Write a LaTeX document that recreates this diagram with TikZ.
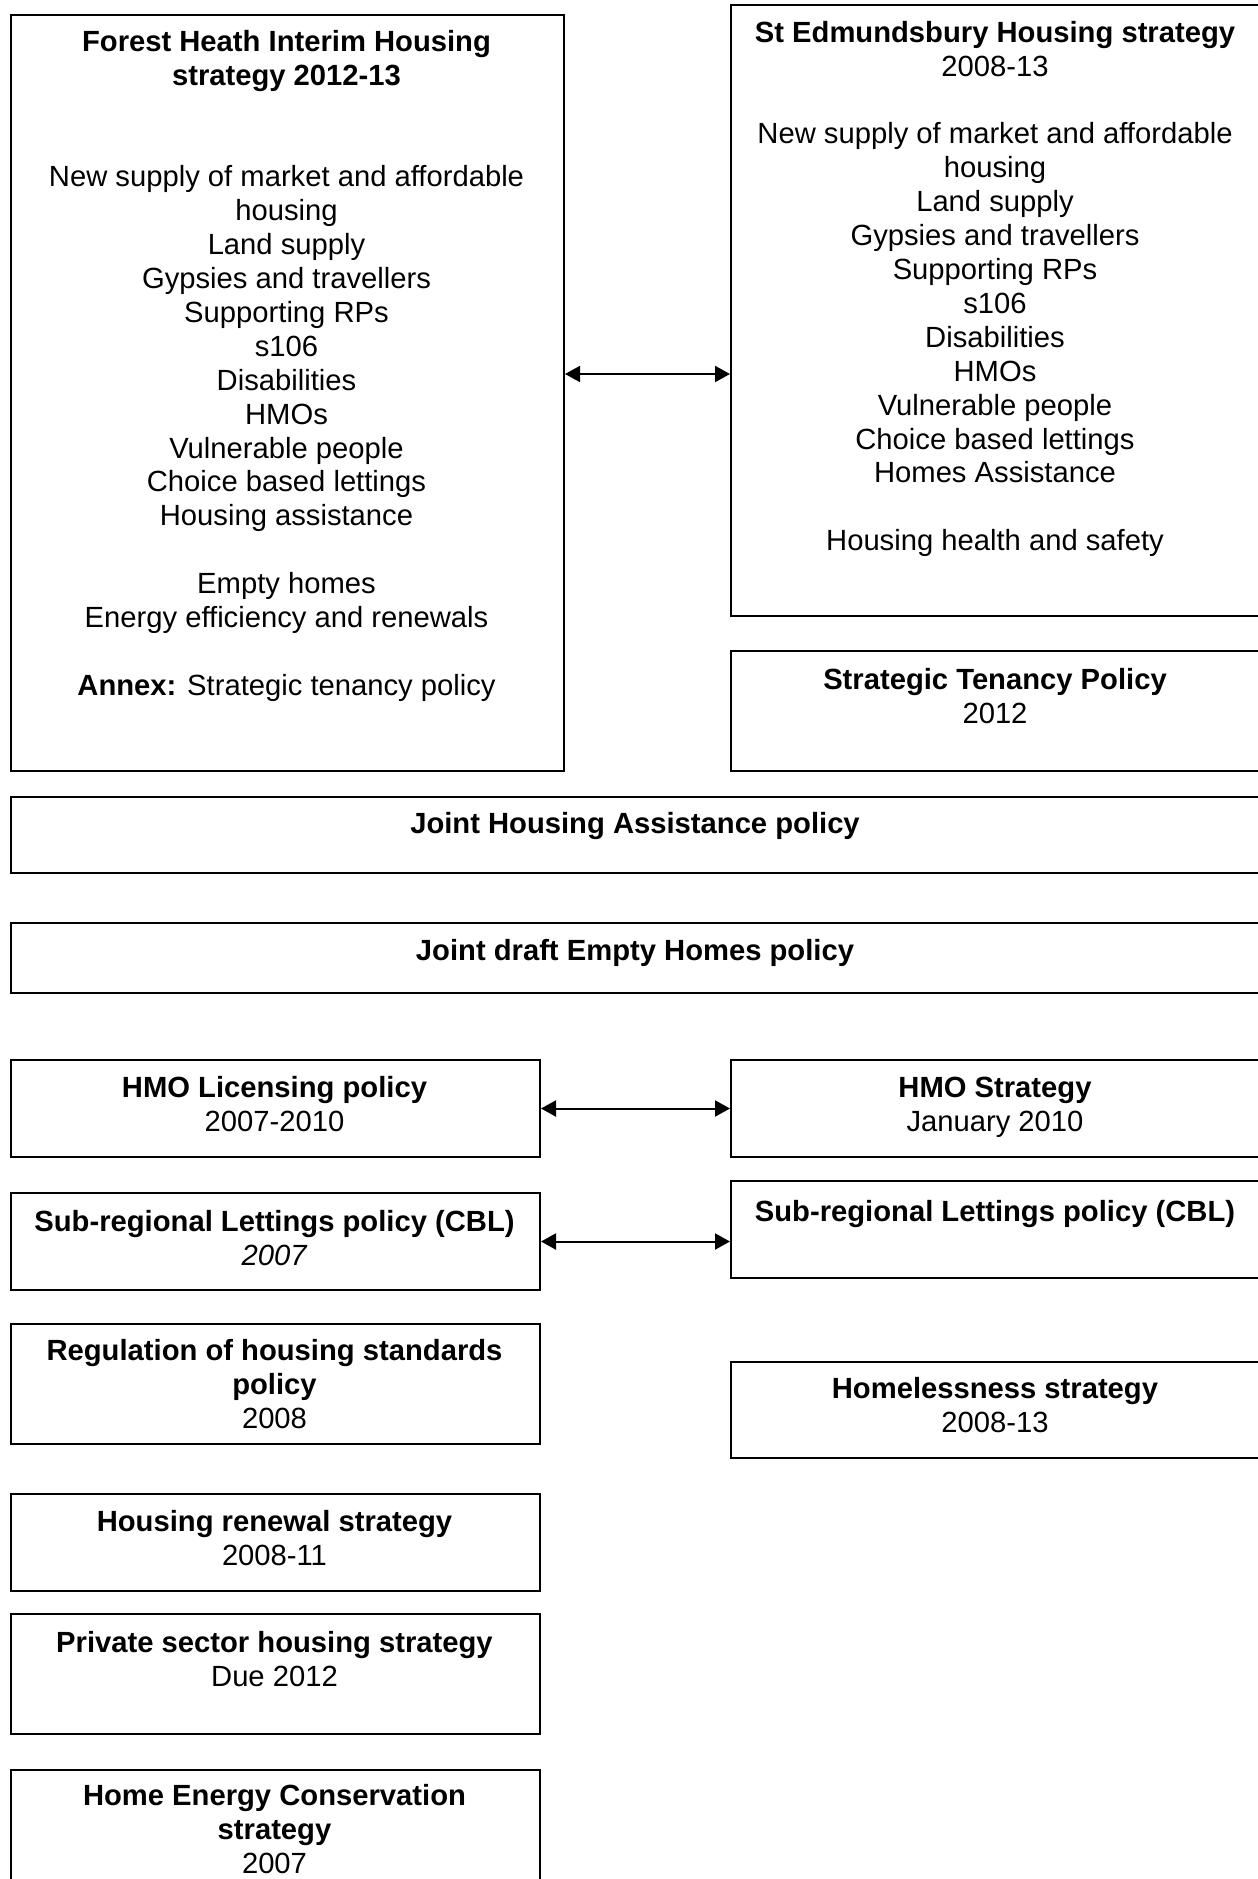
\documentclass[tikz,border=0pt]{standalone}
\usepackage{fontspec}
\setmainfont{Liberation Sans}
\usetikzlibrary{arrows.meta}
\newcommand\fl{\rule{0pt}{24pt}}
\begin{document}
\begin{tikzpicture}[x=1pt,y=-1pt,
  box/.style={draw=black, line width=2pt, rectangle, inner sep=0pt, anchor=north west},
  txt/.style={font=\fontsize{29.2}{33.9}\selectfont, align=center, inner sep=0pt, anchor=north},
  dbl/.style={{Triangle[length=15pt,width=16pt]}-{Triangle[length=15pt,width=16pt]}, line width=2pt}]
\useasboundingbox (0,0) rectangle (1258,1879);
% boxes
\node[box, minimum width=553pt, minimum height=756pt] (fh) at (10,14) {};
\node[box, minimum width=530pt, minimum height=611pt] (se) at (730,4) {};
\node[box, minimum width=530pt, minimum height=120pt] (stp) at (730,650) {};
\node[box, minimum width=1250pt, minimum height=76pt] (jha) at (10,796) {};
\node[box, minimum width=1250pt, minimum height=70pt] (jeh) at (10,922) {};
\node[box, minimum width=529pt, minimum height=97pt] (hmol) at (10,1059) {};
\node[box, minimum width=530pt, minimum height=97pt] (hmos) at (730,1059) {};
\node[box, minimum width=529pt, minimum height=97pt] (subl) at (10,1192) {};
\node[box, minimum width=530pt, minimum height=97pt] (subr) at (730,1180) {};
\node[box, minimum width=529pt, minimum height=120pt] (reg) at (10,1323) {};
\node[box, minimum width=530pt, minimum height=96pt] (hom) at (730,1361) {};
\node[box, minimum width=529pt, minimum height=97pt] (ren) at (10,1493) {};
\node[box, minimum width=529pt, minimum height=120pt] (priv) at (10,1613) {};
\node[box, minimum width=529pt, minimum height=130pt] (hec) at (10,1769) {};
% texts
\node[txt] (fhT) at (286.5,27) {\fl\textbf{Forest Heath Interim Housing}\\\textbf{strategy 2012-13}\\[67.8pt]
 New supply of market and affordable\\housing\\Land supply\\Gypsies and travellers\\Supporting RPs\\s106\\Disabilities\\HMOs\\Vulnerable people\\Choice based lettings\\Housing assistance\\[33.9pt]
 Empty homes\\Energy efficiency and renewals\\[33.9pt]
 \textbf{Annex:} Strategic tenancy policy};
\node[txt] (seT) at (995,18) {\fl\textbf{St Edmundsbury Housing strategy}\\2008-13\\[33.9pt]
 New supply of market and affordable\\housing\\Land supply\\Gypsies and travellers\\Supporting RPs\\s106\\Disabilities\\HMOs\\Vulnerable people\\Choice based lettings\\Homes Assistance\\[33.9pt]
 Housing health and safety};
\node[txt] (stpT) at (995,665) {\fl\textbf{Strategic Tenancy Policy}\\2012};
\node[txt] (jhaT) at (635,809) {\fl\textbf{Joint Housing Assistance policy}};
\node[txt] (jehT) at (635,936) {\fl\textbf{Joint draft Empty Homes policy}};
\node[txt] (hmolT) at (274.5,1073) {\fl\textbf{HMO Licensing policy}\\2007-2010};
\node[txt] (hmosT) at (995,1073) {\fl\textbf{HMO Strategy}\\January 2010};
\node[txt] (sublT) at (274.5,1207) {\fl\textbf{Sub-regional Lettings policy (CBL)}\\\textit{2007}};
\node[txt] (subrT) at (995,1197) {\fl\textbf{Sub-regional Lettings policy (CBL)}};
\node[txt] (regT) at (274.5,1336) {\fl\textbf{Regulation of housing standards}\\\textbf{policy}\\2008};
\node[txt] (homT) at (995,1374) {\fl\textbf{Homelessness strategy}\\2008-13};
\node[txt] (renT) at (274.5,1507) {\fl\textbf{Housing renewal strategy}\\2008-11};
\node[txt] (privT) at (274.5,1628) {\fl\textbf{Private sector housing strategy}\\Due 2012};
\node[txt] (hecT) at (274.5,1781) {\fl\textbf{Home Energy Conservation}\\\textbf{strategy}\\2007};
% connectors
\coordinate (a1) at (0,374);
\draw[dbl] (fh.east |- a1) -- (se.west |- a1);
\draw[dbl] (hmol.east) -- (hmos.west |- hmol.east);
\draw[dbl] (subl.east) -- (subr.west |- subl.east);
\end{tikzpicture}
\end{document}
